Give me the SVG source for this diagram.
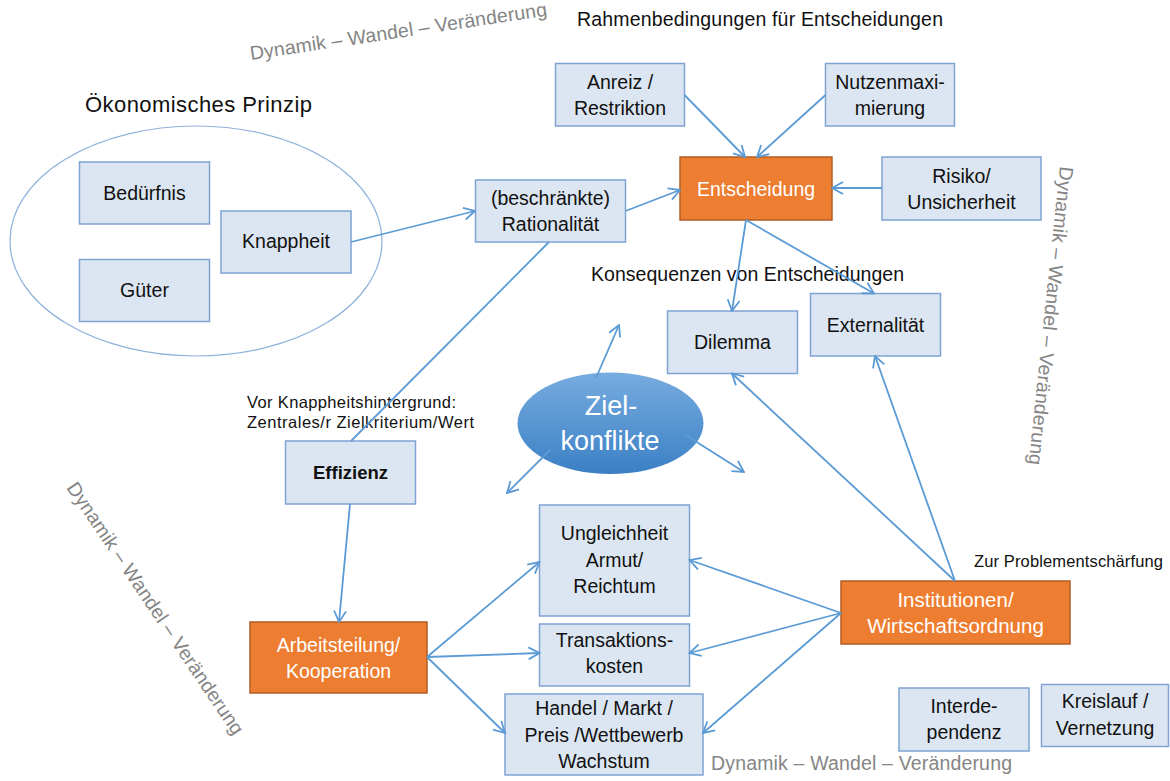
<svg xmlns="http://www.w3.org/2000/svg" width="1170" height="781" viewBox="0 0 1170 781">
<style>
text{font-family:"Liberation Sans",Arial,sans-serif;fill:#111}
.box{fill:#dce6f2;stroke:#7fa3d3;stroke-width:1.5}
.org{fill:#ed7d31;stroke:#b25d24;stroke-width:1.5}
.lbl{font-size:19.5px;text-anchor:middle}
.wt{fill:#ffffff}
.gray{fill:#858585;font-size:19.5px}
.small{font-size:16.5px}
.con line{stroke:#5b9bd5;stroke-width:1.8;fill:none}
.arr{marker-end:url(#ah)}
</style>
<defs>
<marker id="ah" viewBox="0 0 14 14" refX="12.5" refY="7" markerWidth="14" markerHeight="14" markerUnits="userSpaceOnUse" orient="auto">
<path d="M1.5,1 L12.5,7 L1.5,13" fill="none" stroke="#5b9bd5" stroke-width="1.8"/>
</marker>
<linearGradient id="zg" x1="0" y1="0" x2="0" y2="1">
<stop offset="0" stop-color="#77acdf"/>
<stop offset="1" stop-color="#3b80c5"/>
</linearGradient>
</defs>
<rect width="1170" height="781" fill="#ffffff"/>

<!-- free labels -->
<text class="gray" transform="translate(251,60) rotate(-8.5)" textLength="300">Dynamik – Wandel – Veränderung</text>
<text class="gray" transform="translate(1060,166) rotate(96)" textLength="300">Dynamik – Wandel – Veränderung</text>
<text class="gray" transform="translate(150,612) rotate(56)" text-anchor="middle" textLength="300">Dynamik – Wandel – Veränderung</text>
<text class="gray" x="711" y="770" textLength="301">Dynamik – Wandel – Veränderung</text>
<text x="577" y="26" style="font-size:19.5px" textLength="366">Rahmenbedingungen für Entscheidungen</text>
<text x="85" y="112" style="font-size:22px" textLength="227">Ökonomisches  Prinzip</text>
<text x="591" y="281" style="font-size:19.5px" textLength="313">Konsequenzen von Entscheidungen</text>
<text class="small" x="247" y="408" textLength="209">Vor Knappheitshintergrund:</text>
<text class="small" x="247" y="428" textLength="227">Zentrales/r Zielkriterium/Wert</text>
<text class="small" x="974" y="567" textLength="189">Zur Problementschärfung</text>

<!-- nodes -->
<g id="oekonomisches-prinzip"><ellipse cx="196" cy="241" rx="186" ry="115" fill="none" stroke="#8fb2dc" stroke-width="1.2"/></g>
<g id="beduerfnis"><rect class="box" x="79.5" y="162" width="130" height="62"/><text class="lbl" x="144.5" y="200">Bedürfnis</text></g>
<g id="gueter"><rect class="box" x="79.5" y="259.5" width="130" height="62"/><text class="lbl" x="144.5" y="297">Güter</text></g>
<g id="knappheit"><rect class="box" x="221" y="211" width="130" height="62"/><text class="lbl" x="286" y="248">Knappheit</text></g>
<g id="rationalitaet"><rect class="box" x="475.5" y="180" width="150" height="62"/><text class="lbl" x="550.5" y="205">(beschränkte)</text><text class="lbl" x="550.5" y="231">Rationalität</text></g>
<g id="anreiz"><rect class="box" x="555.5" y="63.5" width="129" height="62.5"/><text class="lbl" x="620" y="89">Anreiz /</text><text class="lbl" x="620" y="115">Restriktion</text></g>
<g id="nutzenmaximierung"><rect class="box" x="825.5" y="63.5" width="129" height="62.5"/><text class="lbl" x="890" y="89">Nutzenmaxi-</text><text class="lbl" x="890" y="115">mierung</text></g>
<g id="entscheidung"><rect class="org" x="680" y="157" width="152" height="63"/><text class="lbl wt" x="756" y="196">Entscheidung</text></g>
<g id="risiko"><rect class="box" x="882" y="157" width="159" height="63"/><text class="lbl" x="961.5" y="183">Risiko/</text><text class="lbl" x="961.5" y="209">Unsicherheit</text></g>
<g id="dilemma"><rect class="box" x="667.5" y="311" width="130" height="62.5"/><text class="lbl" x="732.5" y="349">Dilemma</text></g>
<g id="externalitaet"><rect class="box" x="810.5" y="293.5" width="130" height="62.5"/><text class="lbl" x="875.5" y="332">Externalität</text></g>
<g id="effizienz"><rect class="box" x="285.5" y="441" width="130" height="63"/><text class="lbl" x="350.5" y="478.5" style="font-weight:bold;font-size:18.5px">Effizienz</text></g>
<g id="zielkonflikte"><ellipse cx="610.5" cy="423.3" rx="93" ry="50.7" fill="url(#zg)"/><text x="611" y="415" text-anchor="middle" class="wt" style="font-size:27px">Ziel-</text><text x="610" y="450" text-anchor="middle" class="wt" style="font-size:27px">konflikte</text></g>
<g id="arbeitsteilung"><rect class="org" x="250" y="622" width="177" height="71"/><text class="lbl wt" x="338.5" y="652">Arbeitsteilung/</text><text class="lbl wt" x="338.5" y="678">Kooperation</text></g>
<g id="ungleichheit"><rect class="box" x="539.5" y="505" width="150" height="111"/><text class="lbl" x="614.5" y="540">Ungleichheit</text><text class="lbl" x="614.5" y="567">Armut/</text><text class="lbl" x="614.5" y="593">Reichtum</text></g>
<g id="transaktionskosten"><rect class="box" x="539.5" y="624" width="150" height="62"/><text class="lbl" x="614.5" y="647">Transaktions-</text><text class="lbl" x="614.5" y="673">kosten</text></g>
<g id="handel"><rect class="box" x="505" y="694" width="198" height="81"/><text class="lbl" x="604" y="715">Handel / Markt /</text><text class="lbl" x="604" y="742">Preis /Wettbewerb</text><text class="lbl" x="604" y="768">Wachstum</text></g>
<g id="institutionen"><rect class="org" x="841" y="581" width="229" height="63"/><text class="lbl wt" x="955.5" y="607" style="font-size:20.5px">Institutionen/</text><text class="lbl wt" x="955.5" y="633" style="font-size:20.5px">Wirtschaftsordnung</text></g>
<g id="interdependenz"><rect class="box" x="899" y="688" width="130" height="63"/><text class="lbl" x="964" y="713">Interde-</text><text class="lbl" x="964" y="739">pendenz</text></g>
<g id="kreislauf"><rect class="box" x="1041.5" y="684.5" width="127" height="62"/><text class="lbl" x="1105" y="708">Kreislauf /</text><text class="lbl" x="1105" y="735">Vernetzung</text></g>

<!-- connectors -->
<g id="connectors" class="con">
<line class="arr" x1="351" y1="242" x2="475" y2="211"/>
<line class="arr" x1="625.5" y1="211" x2="680" y2="190"/>
<line class="arr" x1="684.5" y1="95" x2="745" y2="157"/>
<line class="arr" x1="825.5" y1="95" x2="757" y2="157"/>
<line class="arr" x1="882" y1="188" x2="832" y2="188"/>
<line class="arr" x1="746" y1="220" x2="732" y2="311"/>
<line class="arr" x1="746" y1="220" x2="874" y2="293.5"/>
<line x1="549" y1="242" x2="351" y2="441"/>
<line class="arr" x1="350" y1="504" x2="339" y2="622"/>
<line class="arr" x1="427" y1="657" x2="539.5" y2="562"/>
<line class="arr" x1="427" y1="657" x2="539.5" y2="653"/>
<line class="arr" x1="427" y1="657" x2="505" y2="733"/>
<line class="arr" x1="841" y1="613" x2="689.5" y2="560"/>
<line class="arr" x1="841" y1="613" x2="689.5" y2="653"/>
<line class="arr" x1="841" y1="613" x2="703" y2="733"/>
<line class="arr" x1="955" y1="581" x2="732" y2="373.5"/>
<line class="arr" x1="955" y1="581" x2="875" y2="356"/>
<line class="arr" x1="596" y1="378" x2="619" y2="325"/>
<line class="arr" x1="684" y1="434" x2="744" y2="472"/>
<line class="arr" x1="551" y1="449" x2="507" y2="493"/>
</g>
</svg>
